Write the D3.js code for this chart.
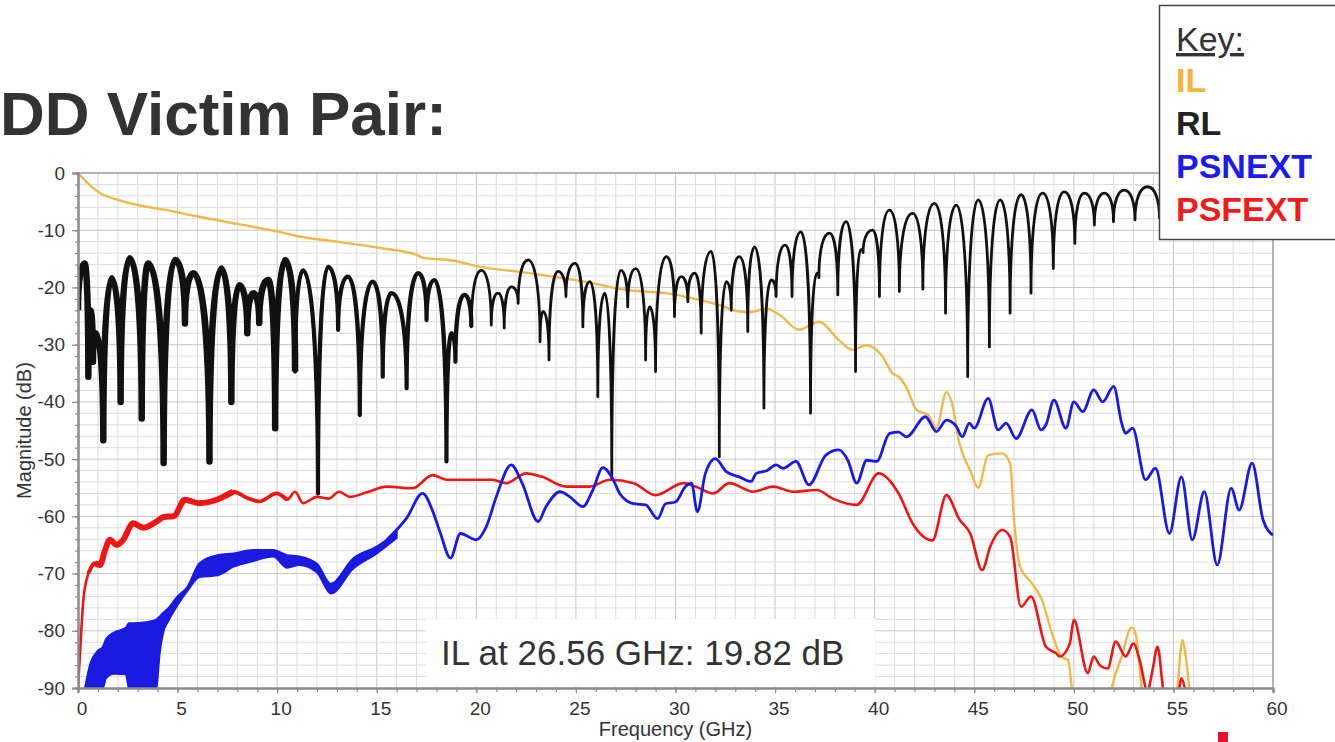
<!DOCTYPE html>
<html><head><meta charset="utf-8">
<script src="https://cdn.jsdelivr.net/npm/d3@7"></script>
<style>
body{margin:0;background:#fff;}
svg{display:block;font-family:"Liberation Sans",Arial,sans-serif;}
</style>
</head><body>
<svg id="c" width="1335" height="742"></svg>
<script>
// ---------- data ----------
const xTickValues = [0,5,10,15,20,25,30,35,40,45,50,55,60];
const yTickValues = [0,-10,-20,-30,-40,-50,-60,-70,-80,-90];
const legendLabels = ["IL","RL","PSNEXT","PSFEXT"];

// IL (insertion loss)
const ilFreq = [0,0.5,1.1,2,3,4.45,6,8,10.1,11.1,13,15.15,17,17.3,18.8,20.2,22,24,26.2,26.56,27.7,29.5,31,32.3,33.2,33.8,34.55,35.3,36.2,37.2,38.2,38.9,39.6,40.4,40.9,41.2,41.6,42.1,42.7,43.1,43.6,43.9,44.25,44.8,45.2,45.7,46.4,46.8,47.0,47.3,47.9,48.4,48.9,49.4,49.7,49.9,50.1,51.6,51.9,52.4,52.9,53.1,53.4,53.6,55.0,55.2,55.45,55.6,55.8,56.0];
const ilDb   = [0,-1.8,-3.5,-4.7,-5.6,-6.5,-7.6,-8.9,-10.3,-11.1,-12,-13.1,-14.3,-14.8,-15.3,-16.4,-17.2,-18.2,-19.5,-19.82,-20.5,-21.0,-22,-23.2,-24.2,-24.3,-23.7,-25,-27.4,-26.0,-29.2,-30.9,-30.1,-32.1,-35,-35.6,-37.5,-41.4,-42.3,-44.6,-38.3,-40.5,-47.2,-52,-55,-49.3,-49,-50.7,-60.6,-68.8,-71.7,-74.6,-80.4,-84.6,-85.1,-90,-96,-96,-90,-84.5,-79.4,-80.5,-90,-96,-96,-90,-81.6,-84,-90,-96];

// RL (return loss): alternating null / peak / null ...
const rlFreq = [0.0,0.33,0.52,0.62,0.75,0.9,1.27,1.69,2.14,2.6,3.2,3.53,4.3,4.87,5.37,5.8,6.6,7.2,7.7,8.1,8.5,8.8,9.1,9.55,9.9,10.4,10.9,11.3,12.05,12.55,13.06,13.56,14.15,14.8,15.3,15.74,16.5,17.08,17.5,17.9,18.5,18.75,18.95,19.4,19.75,20.25,20.75,21.09,21.4,21.76,22.1,22.6,23.2,23.35,23.65,24.1,24.5,24.95,25.35,25.7,26.1,26.45,26.8,27.25,27.6,28.0,28.5,28.7,29.0,29.54,29.95,30.29,30.62,30.96,31.29,31.79,32.2,32.55,32.8,33.2,33.63,33.97,34.44,34.8,35.05,35.5,35.85,36.3,36.78,37.1,37.2,37.73,38.15,38.57,39.04,39.3,39.42,39.9,40.24,40.74,41.24,41.9,42.42,43.0,43.56,44.1,44.67,45.2,45.76,46.3,46.8,47.35,47.85,48.43,48.97,49.52,50.05,50.53,51.03,51.53,51.99,52.53,53.07,53.7,54.3];
const rlDb   = [-24,-15.8,-35.6,-24,-33,-28,-46.7,-18.4,-40,-14.9,-42.9,-15.8,-50.7,-15.2,-26.3,-17.5,-50.4,-16.7,-40,-19.6,-28,-21,-26.2,-18.7,-44.6,-15.2,-34.7,-17,-56,-16.4,-27.4,-18.1,-42.3,-19,-35.6,-21,-37.6,-17.5,-25.7,-18.7,-50.4,-28,-33,-21.3,-26.9,-17,-26.6,-21,-27.1,-19.9,-22.8,-15.2,-29.5,-24.2,-32.7,-17.2,-21.6,-15.8,-26.9,-19,-39.1,-21,-53.4,-17,-23.4,-16.7,-32.7,-23.4,-34.7,-14.6,-25.1,-18.1,-22.5,-17.5,-28,-13.7,-49.6,-19,-24,-14.6,-27.7,-12.9,-41.1,-18.7,-21.6,-12.6,-21.6,-10.3,-42,-17.5,-18.3,-10.5,-21.3,-8.5,-34.7,-13.4,-13.9,-10,-21.6,-6.5,-20.7,-7.05,-20.3,-5.3,-24.5,-5.6,-35.6,-4.7,-30.4,-4.7,-24.5,-3.8,-21,-3.5,-16.7,-3.3,-12.3,-3.5,-9.1,-3.5,-8.5,-3,-8.2,-2.4,-8];

// PSNEXT noisy low-frequency band (upper / lower envelope)
const nextBandFreq  = [0.35,0.6,1.0,1.25,1.4,1.8,2.4,2.55,2.8,3.4,3.9,4.1,4.3,4.5,5.0,5.5,6.1,7.0,7.8,8.8,9.8,10.5,11.1,12.0,12.7,13.8,15.0,16.0];
const nextBandUpper = [-90,-86,-83.5,-82.8,-81.5,-80.3,-79.5,-78.7,-78.7,-78.5,-78.1,-77.5,-76.8,-76.2,-74,-72.3,-68.2,-66.8,-66.5,-65.9,-65.9,-66.8,-67,-68.3,-71.8,-67.4,-65.3,-62.8];
const nextBandLower = [-90,-90,-90,-90,-88.3,-87.5,-87.6,-90,-91,-91,-91,-84,-80,-78.5,-75.5,-73,-70.6,-70.3,-68.8,-67.8,-67,-69,-68.5,-69.8,-73.5,-69.2,-66.5,-63.8];
// PSNEXT line
const nextFreq = [15.5,16.5,17.3,17.8,18.2,18.7,19.2,20,20.5,21,21.75,22.3,23.1,23.5,24.2,24.7,25.35,25.85,26.35,26.9,27.2,27.9,28.5,29.1,29.5,30.0,30.5,30.8,31.1,31.5,32.0,32.55,33.2,33.8,34.05,34.6,35.05,35.4,36.05,36.7,37.55,38.2,38.65,39.1,39.6,40.1,40.75,41.2,41.6,42.55,43.1,43.6,44.1,44.4,44.75,45.0,45.7,46.2,46.6,47.1,47.9,48.35,48.6,49.0,49.6,50.0,50.45,51.0,51.45,52.0,52.4,52.6,52.95,53.6,54.1,54.8,55.4,55.95,56.55,57.2,57.9,58.3,58.95,59.5,60];
const nextDb   = [-64.1,-60.3,-56,-59,-63,-67.3,-63,-64.1,-61.8,-56.6,-51,-54.2,-60.9,-58.3,-55.7,-56.6,-58.3,-55.4,-51.5,-53.8,-56,-57.8,-58,-60.4,-57.8,-57.5,-54.8,-54.2,-59.2,-52.5,-49.9,-52.2,-53.1,-53.9,-52.5,-52,-51,-51.6,-50.4,-54.5,-49.3,-48.4,-50.2,-54.2,-50.2,-50.4,-45.5,-45.3,-46.1,-42.6,-45.2,-43.2,-44.3,-46.1,-43.7,-44.6,-39.4,-44.9,-43.7,-46.4,-41.4,-44.9,-44,-39.7,-44.6,-40,-41.7,-37.9,-40,-37.3,-43.7,-45.5,-44.6,-53.6,-51.6,-63,-53.1,-64.1,-55.7,-68.5,-55.1,-58.9,-50.7,-60.6,-63.3];

// PSFEXT
const fextFreq = [0.0,0.1,0.27,0.52,0.85,1.1,1.35,1.6,1.94,2.27,2.77,3.28,3.95,4.3,4.8,5.37,6.1,6.96,7.8,8.5,9.1,9.97,10.5,10.9,11.3,12.0,12.6,13.1,13.65,14.5,15.5,16.8,17.8,18.5,19.5,20.8,21.5,22.5,23.3,24.5,25.7,26.7,27.9,29.0,30.4,31.0,31.9,32.7,33.9,34.9,35.9,37.1,37.9,39.1,40.2,41.2,41.9,42.9,43.6,44.25,44.8,45.4,45.8,46.4,46.8,47.35,47.85,48.6,49.1,49.3,49.8,50.0,50.7,51.0,51.3,51.7,52.1,52.6,53.0,53.3,53.7,53.95,54.2,54.5,55.0,55.3,55.4,55.6,55.8];
const fextDb   = [-90,-84,-74.6,-70,-68.2,-68.5,-66,-64.1,-65,-64.1,-61.2,-62,-60.9,-60.1,-60,-57.1,-57.7,-57.1,-55.7,-56.8,-57.4,-56,-57.1,-55.7,-57.7,-56.6,-56.9,-55.7,-56.6,-55.8,-54.8,-55.1,-52.8,-53.6,-53.6,-53.6,-54.2,-52.5,-53.1,-54.8,-54.8,-53.6,-54.2,-56.3,-54.2,-54.8,-56,-54.2,-55.7,-54.8,-55.7,-55.4,-56.9,-58,-52.5,-56,-61.2,-64.2,-56.3,-60.5,-63,-69.4,-65.3,-62.4,-63.6,-75.8,-74,-82.8,-83.9,-84.5,-82.2,-78.1,-87.4,-84.5,-86,-86.6,-81.9,-84.5,-82.2,-85.1,-90.5,-86.9,-82.8,-90.5,-95,-90,-88.3,-90.5,-95];

// ---------- drawing ----------
const svg = d3.select("#c");
const x = d3.scaleLinear().domain([0,60]).range([78,1273]);
const y = d3.scaleLinear().domain([0,-90]).range([173,688]);

const col = {il:"#f0b84a", rl:"#111111", next:"#1a1ae0", fext:"#ee1515"};

// title
svg.append("text").attr("x",0).attr("y",135)
  .attr("font-size",62).attr("font-weight","bold").attr("fill","#333")
  .text("DD Victim Pair:");

// clip
svg.append("clipPath").attr("id","plotclip").append("rect")
  .attr("x",x(0)).attr("y",y(0)).attr("width",x(60)-x(0)).attr("height",y(-90)-y(0));

// grid
const g = svg.append("g");
const vMinor = d3.range(1,60), hMinor = d3.range(-2,-90,-2);
g.selectAll("line.v").data(vMinor).enter().append("line")
  .attr("x1",d=>x(d)).attr("x2",d=>x(d)).attr("y1",y(0)).attr("y2",y(-90))
  .attr("stroke",d=>d%5===0?"#c6c6c6":"#dcdcdc").attr("stroke-width",1);
g.selectAll("line.h").data(hMinor).enter().append("line")
  .attr("y1",d=>y(d)).attr("y2",d=>y(d)).attr("x1",x(0)).attr("x2",x(60))
  .attr("stroke",d=>d%10===0?"#c6c6c6":"#dcdcdc").attr("stroke-width",1);

// frame top/right
svg.append("line").attr("x1",x(0)).attr("x2",x(60)).attr("y1",y(0)).attr("y2",y(0)).attr("stroke","#9a9a9a").attr("stroke-width",1.5);
svg.append("line").attr("x1",x(60)).attr("x2",x(60)).attr("y1",y(0)).attr("y2",y(-90)).attr("stroke","#9a9a9a").attr("stroke-width",1.5);

const plot = svg.append("g").attr("clip-path","url(#plotclip)");
const mono = d3.line().x(d=>x(d[0])).y(d=>y(d[1])).curve(d3.curveMonotoneX);

// IL
const ilPts = ilFreq.map((f,i)=>[f,ilDb[i]]);
plot.append("path").attr("d",mono(ilPts)).attr("fill","none").attr("stroke",col.il).attr("stroke-width",2.4);

// RL : arch-shaped lobes between nulls (vertical at nulls, flat at peaks)
const rlPts = rlFreq.map((f,i)=>[f,rlDb[i]]);
function lobePath(pts){
  const a = 0.62, b = 0.58;
  const p = d3.path();
  pts.forEach((pt,i)=>{
    const X = x(pt[0]), Y = y(pt[1]);
    if (i===0){ p.moveTo(X,Y); return; }
    const pr = pts[i-1], X0 = x(pr[0]), Y0 = y(pr[1]);
    if (i % 2 === 1) { // null -> peak
      p.bezierCurveTo(X0, Y0 + a*(Y-Y0), X - b*(X-X0), Y, X, Y);
    } else {           // peak -> null
      p.bezierCurveTo(X0 + b*(X-X0), Y0, X, Y + a*(Y0-Y), X, Y);
    }
  });
  return p.toString();
}
function subset(lo,hi){ // keep whole lobes (start on a null)
  let s = rlPts.findIndex(p=>p[0]>=lo); if (s%2===1) s-=1;
  let e = rlPts.length-1; for(let i=0;i<rlPts.length;i++){ if(rlPts[i][0]>hi){e=i;break;} }
  if (e%2===1) e+=1;
  return rlPts.slice(Math.max(0,s), Math.min(rlPts.length,e+1));
}
plot.append("path").attr("d",lobePath(rlPts)).attr("fill","none").attr("stroke",col.rl)
  .attr("stroke-width",2.8).attr("stroke-linejoin","round");
plot.append("path").attr("d",lobePath(subset(0,19.4))).attr("fill","none").attr("stroke",col.rl)
  .attr("stroke-width",4.2).attr("stroke-linejoin","round");
plot.append("path").attr("d",lobePath(subset(0,10.4))).attr("fill","none").attr("stroke",col.rl)
  .attr("stroke-width",6.5).attr("stroke-linejoin","round");

// PSFEXT
const fextPts = fextFreq.map((f,i)=>[f,fextDb[i]]);
plot.append("path").attr("d",mono(fextPts)).attr("fill","none").attr("stroke",col.fext).attr("stroke-width",2.6);
plot.append("path").attr("d",mono(fextPts.filter(p=>p[0]>=0.5&&p[0]<=10.5))).attr("fill","none").attr("stroke",col.fext).attr("stroke-width",3.8);
plot.append("path").attr("d",mono(fextPts.filter(p=>p[0]>=0.8&&p[0]<=7.8))).attr("fill","none").attr("stroke",col.fext).attr("stroke-width",6);

// PSNEXT
const band = nextBandFreq.map((f,i)=>({f, u:nextBandUpper[i], l:nextBandLower[i]}));
plot.append("path").datum(band)
  .attr("d",d3.area().x(d=>x(d.f)).y0(d=>y(d.l)).y1(d=>y(d.u)).curve(d3.curveMonotoneX))
  .attr("fill",col.next).attr("stroke",col.next).attr("stroke-width",2);
const nextPts = nextFreq.map((f,i)=>[f,nextDb[i]]);
plot.append("path").attr("d",mono(nextPts)).attr("fill","none").attr("stroke",col.next).attr("stroke-width",2.8);

// annotation box
svg.append("rect").attr("x",426).attr("y",619).attr("width",449).attr("height",67).attr("fill","#fff");
svg.append("text").attr("x",441).attr("y",665).attr("font-size",35).attr("fill","#333")
  .text("IL at 26.56 GHz: 19.82 dB");

// axes
const xAxisMinor = d3.axisBottom(x).tickValues(d3.range(0,61,1)).tickSize(4).tickFormat("");
const xAxis = d3.axisBottom(x).tickValues(xTickValues).tickSize(5).tickPadding(8.5).tickFormat(d3.format("d"));
const yAxisMinor = d3.axisLeft(y).tickValues(d3.range(0,-91,-2)).tickSize(3).tickFormat("");
const yAxis = d3.axisLeft(y).tickValues(yTickValues).tickSize(6).tickPadding(7).tickFormat(d=>d===0?"0":"-"+Math.abs(d));

function styleAxis(sel){
  sel.select(".domain").attr("stroke","#8a8a8a").attr("stroke-width",2);
  sel.selectAll(".tick line").attr("stroke","#8a8a8a").attr("stroke-width",1.2);
  sel.selectAll(".tick text").attr("fill","#333").attr("font-size",19).attr("font-family","Liberation Sans, Arial, sans-serif");
}
svg.append("g").attr("transform",`translate(0,${y(-90)})`).call(xAxisMinor).call(styleAxis);
svg.append("g").attr("transform",`translate(0,${y(-90)})`).call(xAxis).call(styleAxis)
  .selectAll(".tick text").attr("dx",3.5);
svg.append("g").attr("transform",`translate(${x(0)},0)`).call(yAxisMinor).call(styleAxis);
svg.append("g").attr("transform",`translate(${x(0)},0)`).call(yAxis).call(styleAxis);

// axis titles
svg.append("text").attr("x",(x(0)+x(60))/2).attr("y",736).attr("text-anchor","middle")
  .attr("font-size",20).attr("fill","#333").text("Frequency (GHz)");
svg.append("text").attr("transform",`translate(31,${(y(0)+y(-90))/2}) rotate(-90)`)
  .attr("text-anchor","middle").attr("font-size",20).attr("fill","#333").text("Magnitude (dB)");

// legend / key
const lg = svg.append("g");
lg.append("rect").attr("x",1159.5).attr("y",5.5).attr("width",200).attr("height",234)
  .attr("fill","#fff").attr("stroke","#444").attr("stroke-width",1.5);
lg.append("text").attr("x",1176).attr("y",51).attr("font-size",34).attr("fill","#333")
  .attr("text-decoration","underline").text("Key:");
const legendColors = ["#f4b43a","#222222","#1c1cea","#ee1c1c"];
lg.selectAll("text.item").data(legendLabels).enter().append("text")
  .attr("x",1176).attr("y",(d,i)=>92+i*43).attr("font-size",34).attr("font-weight","bold")
  .attr("fill",(d,i)=>legendColors[i]).text(d=>d);

// logo fragment bottom right
svg.append("rect").attr("x",1218).attr("y",732).attr("width",10).attr("height",10).attr("fill","#e8102e");
</script>
</body></html>
